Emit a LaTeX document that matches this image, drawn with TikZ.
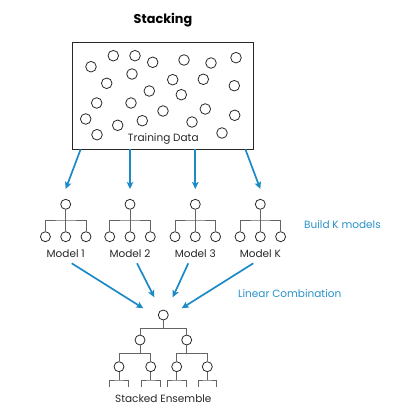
\documentclass[tikz,border=0pt]{standalone}
\usepackage{fontspec}
\setmainfont{Poppins}
\usetikzlibrary{arrows.meta,calc}
\definecolor{arrblue}{RGB}{28,138,199}
\definecolor{txtblue}{RGB}{40,145,200}
\definecolor{ink}{RGB}{40,40,40}
\definecolor{linkgray}{RGB}{100,100,100}
\tikzset{
  dot/.style={circle,draw=ink,line width=0.8pt,minimum size=10.6pt,inner sep=0pt,fill=white},
  tn/.style={circle,draw=ink,line width=0.8pt,minimum size=10pt,inner sep=0pt},
  link/.style={draw=linkgray,line width=0.9pt},
  arr/.style={draw=arrblue,line width=1.7pt,-{Stealth[length=7pt,width=6.5pt,inset=1.5pt]}},
  lab/.style={text=ink,font=\fontsize{10.5}{12}\selectfont,inner sep=0pt},
  blab/.style={text=txtblue,font=\fontsize{10.5}{12}\selectfont,inner sep=0pt},
}
\begin{document}
\begin{tikzpicture}[x=1pt,y=-1pt]
\useasboundingbox (0,0) rectangle (400,419);
% title
\node[text=black,font=\bfseries\fontsize{12.8}{14}\selectfont,inner sep=0pt] (title) at (163,20.5) {Stacking};
% data box
\node[draw=ink,line width=0.8pt,minimum width=181pt,minimum height=107pt,inner sep=0pt] (data) at (163,95.5) {};
\foreach \n/\x/\y in {d1/91/66.7,d2/113.3/55.7,d3/135/55.7,d4/152.7/62.3,d5/184/60,d6/211/63,d7/236/57.7,
  d8/106.7/83.3,d9/132/74,d10/172.7/79.7,d11/203.3/79.3,d12/234.3/85.7,d13/149.3/91,d14/181.3/94.7,
  d15/96.7/103,d16/131/103,d17/163/111,d18/205.3/109,d19/234.7/115.3,d20/85.7/119,d21/117.7/125.3,
  d22/142.3/120.7,d23/192/122,d24/97/134.7,d25/222/133}
  \node[dot] (\n) at (\x,\y) {};
\node[lab] (dlab) at (163.3,139.3) {Training Data};
% model trees
\foreach \m/\cx/\name in {m1/65.7/{Model 1},m2/130/{Model 2},m3/195.3/{Model 3},mk/260.3/{Model K}}{
  \node[tn] (\m t) at (\cx,204.3) {};
  \coordinate (\m j) at (\cx,220);
  \node[tn] (\m a) at (\cx-20.3,236.7) {};
  \node[tn] (\m b) at (\cx,236.7) {};
  \node[tn] (\m c) at (\cx+20.3,236.7) {};
  \draw[link] (\m t) -- (\m j);
  \draw[link] (\m a) |- (\m j) -| (\m c);
  \draw[link] (\m b) -- (\m j);
  \node[lab] (\m l) at (\cx,253.3) {\name};
}
\node[blab,anchor=west] (build) at (304,225) {Build K models};
% arrows row 1
\draw[arr] ([xshift=8.5pt]data.south west) -- ([shift={(0,-15.3)}]m1t.center);
\draw[arr] (data.south -| m2t) -- ([shift={(0,-15.3)}]m2t.center);
\draw[arr] (data.south -| m3t) -- ([shift={(0,-15.3)}]m3t.center);
\draw[arr] ([xshift=-8.5pt]data.south east) -- ([shift={(0,-15.3)}]mkt.center);
% ensemble
\node[tn] (e1) at (163.3,315) {};
\coordinate (ej1) at (163.3,328.3);
\node[tn] (e2a) at (140,340) {};
\node[tn] (e2b) at (186.7,340) {};
\coordinate (ej2a) at (140,353.3);
\coordinate (ej2b) at (186.7,353.3);
\node[tn] (e3a) at (119,366.7) {};
\node[tn] (e3b) at (150.7,366.7) {};
\node[tn] (e3c) at (176.7,366.7) {};
\node[tn] (e3d) at (207.3,366.7) {};
\draw[link] (e1) -- (ej1);
\draw[link] (e2a) |- (ej1) -| (e2b);
\draw[link] (e2a) -- (ej2a);
\draw[link] (e2b) -- (ej2b);
\draw[link] (e3a) |- (ej2a) -| (e3b);
\draw[link] (e3c) |- (ej2b) -| (e3d);
\foreach \n in {e3a,e3b,e3c,e3d}{
  \coordinate (\n j) at ($(\n)+(0,13.3)$);
  \draw[link] (\n) -- (\n j);
  \draw[link] ($(\n)+(-9.3,20.3)$) |- (\n j) -| ($(\n)+(9.3,20.3)$);
}
\node[lab] (elab) at (163.3,398.3) {Stacked Ensemble};
% arrows row 2
\draw[arr] ([shift={(6,10)}]m1l.center) -- ([shift={(-20,-6.7)}]e1.center);
\draw[arr] ([shift={(7,10)}]m2l.center) -- ([shift={(-9,-17.7)}]e1.center);
\draw[arr] ([shift={(-7,10)}]m3l.center) -- ([shift={(9.4,-17.7)}]e1.center);
\draw[arr] ([shift={(-7,10)}]mkl.center) -- ([shift={(18.4,-6.7)}]e1.center);
\node[blab] (lin) at (289.7,293.3) {Linear Combination};
\end{tikzpicture}
\end{document}
